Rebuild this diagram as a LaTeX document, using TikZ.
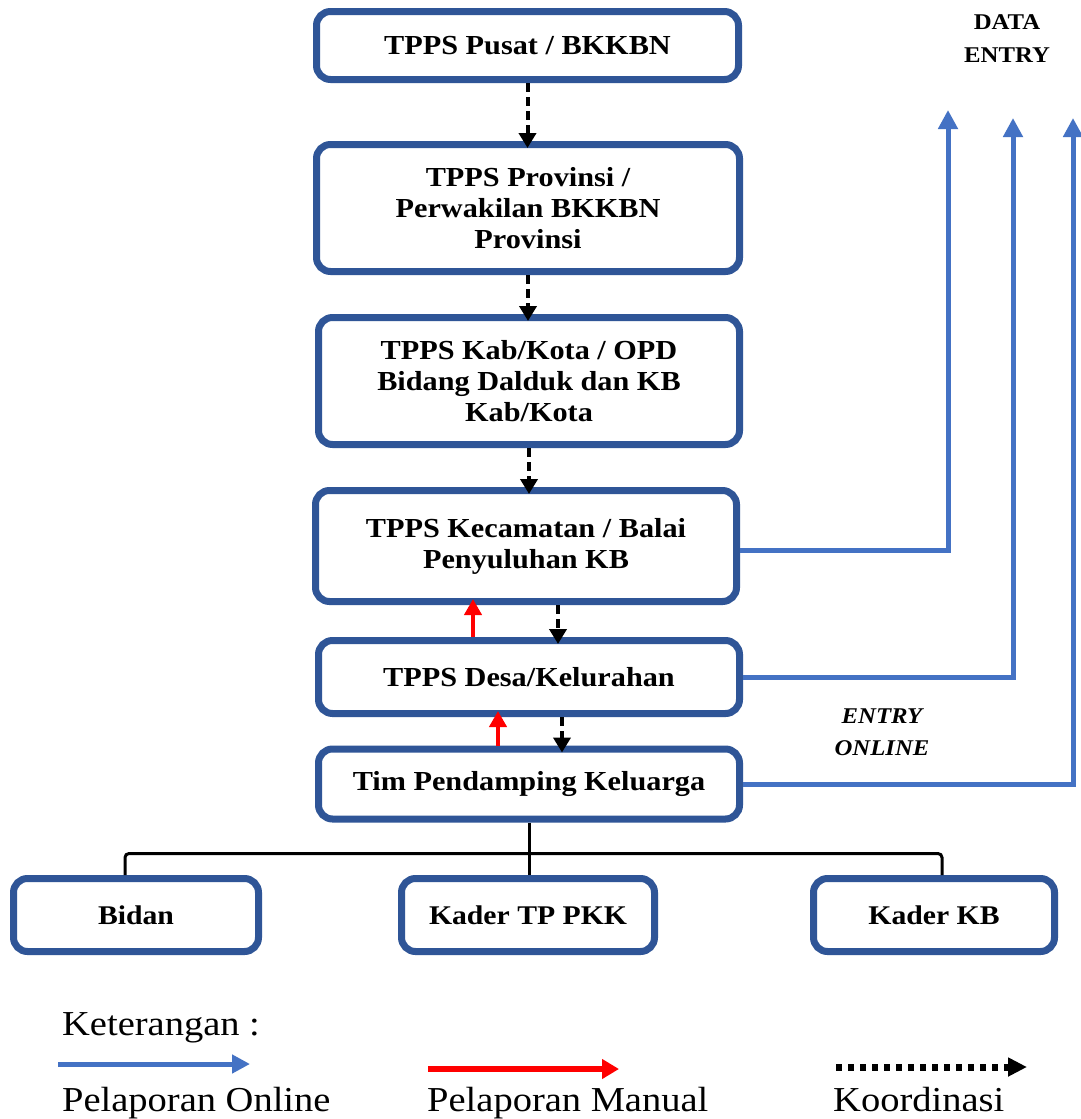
\documentclass[tikz,border=0pt]{standalone}
\usepackage{fontspec}
\setmainfont[FakeStretch=1.1]{Liberation Serif}
\usetikzlibrary{arrows.meta,calc}
\definecolor{boxblue}{HTML}{2F5597}
\definecolor{lineblue}{HTML}{4472C4}
\begin{document}
\begin{tikzpicture}[x=1pt,y=-1pt,
  box/.style={draw=boxblue, line width=7pt, rounded corners=14pt, fill=white,
    align=center, inner sep=0pt, font=\bfseries\fontsize{27.5}{31}\selectfont},
  smallbox/.style={box, minimum height=73pt, font=\bfseries\fontsize{27}{30}\selectfont},
  coordarrow/.style={draw=black, line width=4pt, dash pattern=on 9pt off 5pt,
    -{Triangle[width=17pt,length=15pt]}, shorten >=-7pt},
  manual/.style={draw=red, line width=4pt, -{Triangle[width=17pt,length=16pt]}, shorten >=-6pt},
  online/.style={draw=lineblue, line width=5pt, -{Triangle[width=19pt,length=19pt]}},
  tree/.style={draw=black, line width=3pt, rounded corners=4pt},
  legend/.style={inner sep=0pt, font=\fontsize{35}{38}\selectfont},
  label/.style={inner sep=0pt, align=center, font=\bfseries\fontsize{22.5}{33}\selectfont}]
\useasboundingbox[fill=white] (0,0) rectangle (1081,1119);

% main column
\node[box, minimum width=422pt, minimum height=68pt] (b1) at (527.5,45.5) {TPPS Pusat / BKKBN};
\node[box, minimum width=423pt, minimum height=127pt] (b2) at (528,208) {TPPS Provinsi /\\Perwakilan BKKBN\\Provinsi};
\node[box, minimum width=421pt, minimum height=127pt] (b3) at (529,381) {TPPS Kab/Kota / OPD\\Bidang Dalduk dan KB\\Kab/Kota};
\node[box, minimum width=421pt, minimum height=111pt] (b4) at (526,546) {TPPS Kecamatan / Balai\\Penyuluhan KB};
\node[box, minimum width=421pt, minimum height=73pt] (b5) at (529,677) {TPPS Desa/Kelurahan};
\node[box, minimum width=421pt, minimum height=70pt] (b6) at (529,784) {Tim Pendamping Keluarga};

% bottom row
\node[smallbox, minimum width=245pt] (k1) at (136,915) {Bidan};
\node[smallbox, minimum width=253pt] (k2) at (528,915) {Kader TP PKK};
\node[smallbox, minimum width=241pt] (k3) at (934,915) {Kader KB};

% labels
\node[label] (de) at (1007,38.5) {DATA\\ENTRY};
\node[label, font=\bfseries\itshape\fontsize{22.5}{32}\selectfont] (eo) at (882,732) {ENTRY\\ONLINE};

% coordination (dashed)
\draw[coordarrow] (b1.south) -- (b1.south |- b2.north);
\draw[coordarrow] (b2.south) -- (b2.south |- b3.north);
\draw[coordarrow] (b3.south) -- (b3.south |- b4.north);
\path (b4.south) ++(32,0) coordinate (d4);
\draw[coordarrow] (d4) -- (d4 |- b5.north);
\path (b5.south) ++(33,0) coordinate (d5);
\draw[coordarrow] (d5) -- (d5 |- b6.north);

% manual reporting (red)
\path (b5.north) ++(-56,0) coordinate (r1);
\draw[manual] (r1) -- (r1 |- b4.south);
\path (b6.north) ++(-31,0) coordinate (r2);
\draw[manual] (r2) -- (r2 |- b5.south);

% online reporting (blue)
\coordinate (e1) at (948,110);
\coordinate (e2) at (1013,118);
\coordinate (e3) at (1073,118);
\draw[online] ([yshift=-4pt]b4.east) -| (e1);
\draw[online] (b5.east) -| (e2);
\draw[online] (b6.east) -| (e3);

% tree
\draw[tree] (b6.south) -- (b6.south |- k2.north);
\path (b6.south) ++(0,31) coordinate (hub);
\path (k1.north) ++(-11,0) coordinate (t1);
\path (k3.north) ++(8,0) coordinate (t3);
\draw[tree] (t1) |- (hub) -| (t3);

% legend
\node[legend, anchor=base west] (ket) at (62,1035) {Keterangan :};
\coordinate (l1a) at (58,1064);
\coordinate (l1b) at (250,1064);
\draw[online, -{Triangle[width=18pt,length=18pt]}] (l1a) -- (l1b);
\coordinate (l2a) at (428,1069);
\coordinate (l2b) at (619,1069);
\draw[manual, line width=6pt, shorten >=0pt, -{Triangle[width=19pt,length=17pt]}] (l2a) -- (l2b);
\coordinate (l3a) at (836,1067);
\coordinate (l3b) at (1027,1067);
\draw[draw=black, line width=7pt, dash pattern=on 6pt off 6pt, -{Triangle[width=18pt,length=19pt]}] (l3a) -- (l3b);
\node[legend, anchor=base west] (lg1) at (62,1111) {Pelaporan Online};
\node[legend, anchor=base west] (lg2) at (427,1111) {Pelaporan Manual};
\node[legend, anchor=base west] (lg3) at (833,1111) {Koordinasi};
\end{tikzpicture}
\end{document}
